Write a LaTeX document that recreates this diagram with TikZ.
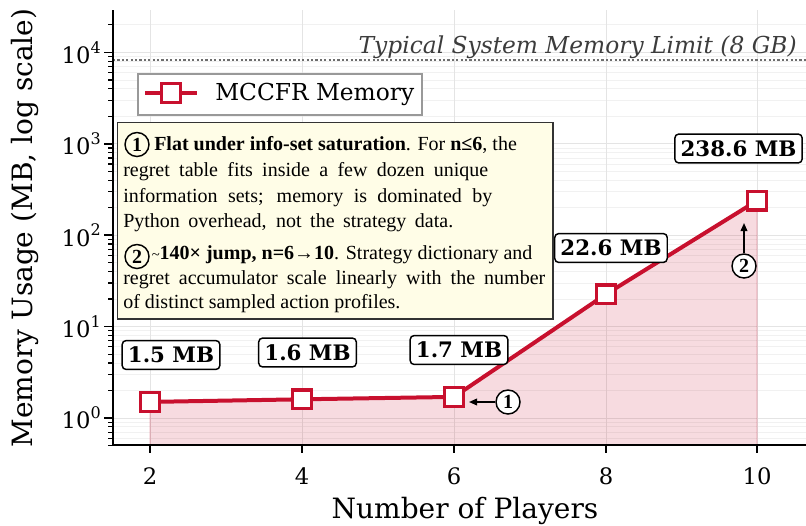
\documentclass[tikz,border=0pt]{standalone}
\usepackage{fontspec}
\setmainfont{DejaVu Serif}
\newfontfamily\notefont{Liberation Serif}
\usetikzlibrary{arrows.meta}
\definecolor{crimson}{RGB}{200,16,46}
\definecolor{gridmajor}{RGB}{228,228,228}
\definecolor{gridminor}{RGB}{241,241,241}
\definecolor{noteback}{RGB}{255,253,231}
\definecolor{noteedge}{RGB}{51,51,51}
\definecolor{legendedge}{RGB}{153,153,153}
\definecolor{limitgray}{RGB}{110,110,110}
\definecolor{limittext}{RGB}{60,60,60}
\tikzset{
  spine/.style={line width=1.9pt, line join=miter},
  majortick/.style={line width=1.3pt},
  minortick/.style={line width=0.9pt},
  ticklab/.style={inner sep=0pt, font=\fontsize{17}{20}\selectfont},
  axislab/.style={inner sep=0pt, font=\fontsize{21}{25}\selectfont},
  dataline/.style={crimson, line width=3pt, line join=round},
  mk/.style={rectangle, draw=crimson, fill=white, line width=2.6pt, minimum size=14.1pt, inner sep=0pt},
  vlabel/.style={draw=black, fill=white, rounded corners=3pt, line width=1.1pt,
    font=\fontsize{16}{19}\selectfont\bfseries, text height=11.7pt, text depth=0pt,
    inner xsep=4.3pt, inner ysep=5pt},
  noteline/.style={anchor=base west, inner sep=0pt, font=\notefont\fontsize{15}{18}\selectfont},
  circnum/.style={circle, draw=black, line width=1.1pt, minimum size=18pt, inner sep=0pt,
    font=\notefont\fontsize{15}{18}\selectfont\bfseries},
  callout/.style={draw=black, line width=1.1pt, -{Triangle[length=6pt, width=5pt]}},
}
\begin{document}
\begin{tikzpicture}[x=0.75pt, y=-0.75pt]
\useasboundingbox (0,0) rectangle (806,525);

% grid lines (log minor, log major, vertical)
\begin{scope}
  \clip (113,10) rectangle (806,445);
  \foreach \d in {-1,...,4}{
    \foreach \k in {2,...,9}{
      \pgfmathsetmacro\yy{418-91.4*(\d+log10(\k))}
      \draw[gridminor, line width=0.6pt] (113,\yy) -- (806,\yy);
    }
  }
  \foreach \d in {0,...,4}
    \draw[gridmajor, line width=0.75pt] (113,418-91.4*\d) -- (806,418-91.4*\d);
  \foreach \xx in {150,302,454,606,757}
    \draw[gridmajor, line width=0.75pt] (\xx,10) -- (\xx,445);
\end{scope}

% data points (log-scaled memory in MB)
\coordinate (p2) at (150,401.9);
\coordinate (p4) at (302,399.3);
\coordinate (p6) at (454,396.9);
\coordinate (p8) at (606,294.2);
\coordinate (p10) at (757,200.7);
\coordinate (b2) at (150,445);
\coordinate (b10) at (757,445);

% shaded area under the curve
\fill[crimson, fill opacity=0.15] (b2) -- (p2) -- (p4) -- (p6) -- (p8) -- (p10) -- (b10) -- cycle;
\draw[crimson, draw opacity=0.12, line width=0.8pt] (p2) -- (b2) (p10) -- (b10);

% memory limit reference line
\coordinate (lim0) at (113,60.3);
\coordinate (lim1) at (806,60.3);
\draw[limitgray, line width=1.5pt, dash pattern=on 1.6pt off 1.7pt] (lim0) -- (lim1);
\node[inner sep=0pt, anchor=base east, text=limittext, font=\fontsize{17.5}{20}\selectfont\itshape]
  (limtext) at (797,53) {Typical System Memory Limit (8 GB)};

% memory curve
\draw[dataline] (p2) -- (p4) -- (p6) -- (p8) -- (p10);
\node[mk] (m2) at (p2) {};
\node[mk] (m4) at (p4) {};
\node[mk] (m6) at (p6) {};
\node[mk] (m8) at (p8) {};
\node[mk] (m10) at (p10) {};

% axes
\draw[spine] (113,10) -- (113,445) -- (806,445);
\foreach \d in {0,...,4}{
  \draw[majortick] (104,418-91.4*\d) -- (113,418-91.4*\d);
  \node[ticklab, anchor=east] (yt\d) at (101,418-91.4*\d)
    {10\raisebox{0.45em}{\fontsize{12}{12}\selectfont\d}};
}
\begin{scope}
  \clip (95,10) rectangle (113,445);
  \foreach \d in {-1,...,4}{
    \foreach \k in {2,...,9}{
      \pgfmathsetmacro\yy{418-91.4*(\d+log10(\k))}
      \draw[minortick] (108,\yy) -- (113,\yy);
    }
  }
\end{scope}
\foreach \xx/\lab in {150/2,302/4,454/6,606/8,757/10}{
  \draw[majortick] (\xx,445) -- (\xx,453);
  \node[ticklab, anchor=base] (xt\lab) at (\xx,484) {\lab};
}
\node[axislab, anchor=base] (xlabel) at (465,518) {Number of Players};
\node[axislab, rotate=90] (ylabel) at (25,228) {Memory Usage (MB, log scale)};

% legend
\node[draw=legendedge, fill=white, line width=1.5pt, minimum width=213pt, minimum height=30.75pt,
  inner sep=0pt] (legend) at (280,94.5) {};
\coordinate (lg0) at (145,93);
\coordinate (lg1) at (197,93);
\draw[dataline] (lg0) -- (lg1);
\node[mk] (lgmk) at (171,93) {};
\node[inner sep=0pt, anchor=base west, font=\fontsize{17.5}{20}\selectfont] (lgtext) at (215,100) {MCCFR Memory};

% explanatory note
\node[draw=noteedge, fill=noteback, line width=1.4pt, minimum width=326.6pt, minimum height=147.4pt,
  inner sep=0pt] (notebox) at (335.25,220.75) {};
\node[circnum] (n1) at (137,144.5) {1};
\node[noteline] (t1) at (154,150) {\textbf{Flat under info-set saturation}. For \textbf{n≤6}, the};
\node[noteline] (t2) at (123,176) {\makebox[273.75pt][s]{regret table fits inside a few dozen unique}};
\node[noteline] (t3) at (123,202) {\makebox[276.75pt][s]{information sets; memory is dominated by}};
\node[noteline] (t4) at (123,227) {\makebox[247.5pt][s]{Python overhead, not the strategy data.}};
\node[circnum] (n2) at (137,256.5) {2};
\node[noteline] (t5) at (151.5,259.5) {{\fontsize{11}{12}\selectfont\textasciitilde}\textbf{140× jump, n=6→10}. Strategy dictionary and};
\node[noteline] (t6) at (123,284) {\makebox[316.5pt][s]{regret accumulator scale linearly with the number}};
\node[noteline] (t7) at (123,308.5) {of distinct sampled action profiles.};

% value labels
\node[vlabel] (l2) at (171,355) {1.5 MB};
\node[vlabel] (l4) at (307.5,352.5) {1.6 MB};
\node[vlabel] (l6) at (459,350) {1.7 MB};
\node[vlabel] (l8) at (611,248) {22.6 MB};
\node[vlabel] (l10) at (738.5,148.5) {238.6 MB};

% callouts
\node[circnum, fill=white] (c1) at (508,402) {1};
\coordinate (a1) at (469,402);
\draw[callout] (c1) -- (a1);
\node[circnum, fill=white] (c2) at (744,266) {2};
\coordinate (a2) at (744,223);
\draw[callout] (c2) -- (a2);
\end{tikzpicture}
\end{document}
